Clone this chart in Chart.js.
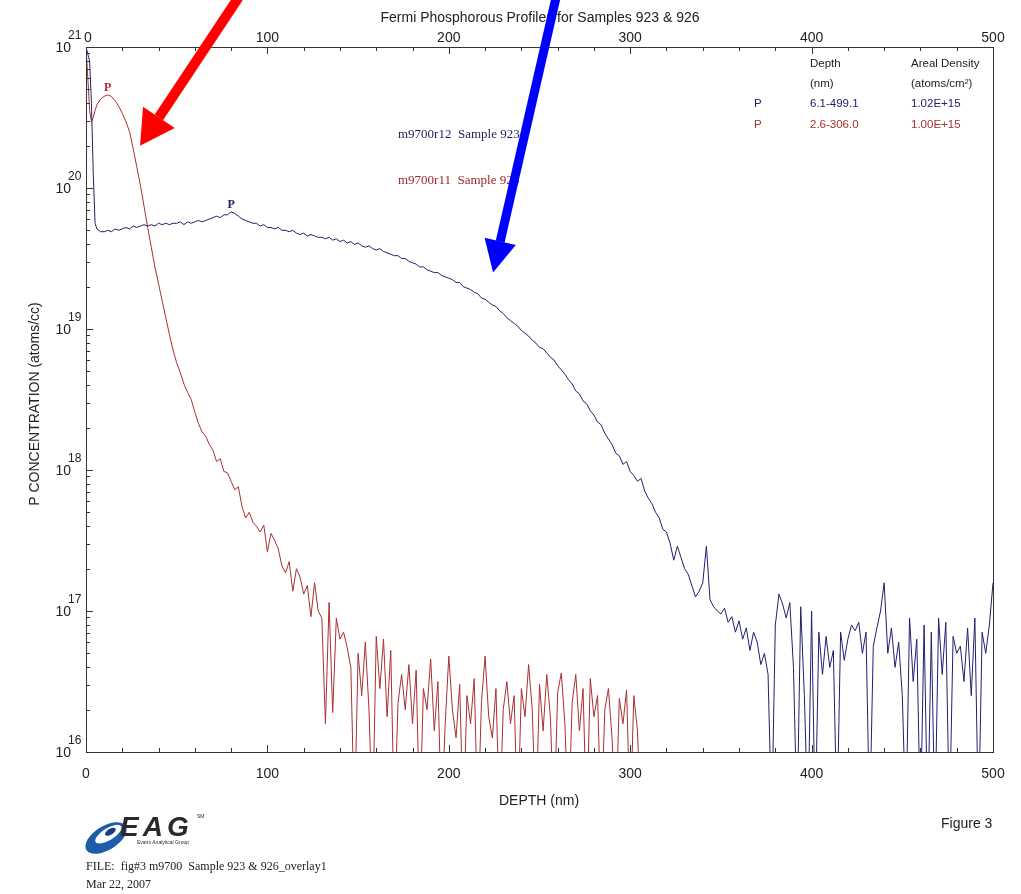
<!DOCTYPE html>
<html>
<head>
<meta charset="utf-8">
<script src="https://cdn.jsdelivr.net/npm/chart.js@4.4.0/dist/chart.umd.min.js"></script>
<style>
  html, body { margin: 0; padding: 0; background: #fff; }
  #wrap { position: relative; width: 1021px; height: 894px; }
  #sims { position: absolute; left: 0; top: 0; }
  .note { position: absolute; font-family: "Liberation Serif", serif; font-size: 12px; color: #222; white-space: pre; }
</style>
</head>
<body>
<div id="wrap">
  <canvas id="sims" width="1021" height="894"></canvas>
  <div class="note" style="left:86px;top:859px">FILE:  fig#3 m9700  Sample 923 &amp; 926_overlay1</div>
  <div class="note" style="left:86px;top:877px">Mar 22, 2007</div>
  <div style="position:absolute;left:941px;top:815px;font:14px 'Liberation Sans',sans-serif;color:#222">Figure 3</div>
</div>
<script>
// depth grid (nm) shared by both profiles
const depthNm = [0, 1, 2, 3, 4, 5, 6, 8,
  10, 12, 14, 16, 18, 20, 22, 24, 26, 28, 30, 32, 34, 36, 38, 40, 42, 44, 46, 48,
  50, 52, 54, 56, 58, 60, 62, 64, 66, 68, 70, 72, 74, 76, 78, 80, 82, 84, 86, 88,
  90, 92, 94, 96, 98, 100, 102, 104, 106, 108, 110, 112, 114, 116, 118, 120, 122, 124, 126, 128,
  130, 132, 134, 136, 138, 140, 142, 144, 146, 148, 150, 152, 154, 156, 158, 160, 162, 164, 166, 168,
  170, 172, 174, 176, 178, 180, 182, 184, 186, 188, 190, 192, 194, 196, 198, 200, 202, 204, 206, 208,
  210, 212, 214, 216, 218, 220, 222, 224, 226, 228, 230, 232, 234, 236, 238, 240, 242, 244, 246, 248,
  250, 252, 254, 256, 258, 260, 262, 264, 266, 268, 270, 272, 274, 276, 278, 280, 282, 284, 286, 288,
  290, 292, 294, 296, 298, 300, 302, 304, 306, 308, 310, 312, 314, 316, 318, 320, 322, 324, 326, 328,
  330, 332, 334, 336, 338, 340, 342, 344, 346, 348, 350, 352, 354, 356, 358, 360, 362, 364, 366, 368,
  370, 372, 374, 376, 378, 380, 382, 384, 386, 388, 390, 392, 394, 396, 398, 400, 402, 404, 406, 408,
  410, 412, 414, 416, 418, 420, 422, 424, 426, 428, 430, 432, 434, 436, 438, 440, 442, 444, 446, 448,
  450, 452, 454, 456, 458, 460, 462, 464, 466, 468, 470, 472, 474, 476, 478, 480, 482, 484, 486, 488,
  490, 492, 494, 496, 498, 500];

// log10 of P concentration (atoms/cc), sample 923 (m9700r12)
const sample923Log = [21.0, 20.95, 20.9, 20.6, 20.1, 19.75, 19.71, 19.69,
  19.69, 19.70, 19.69, 19.71, 19.70, 19.71, 19.72, 19.71, 19.73, 19.72,
  19.73, 19.74, 19.73, 19.74, 19.73, 19.75, 19.74, 19.75, 19.74, 19.75,
  19.75, 19.76, 19.74, 19.76, 19.75, 19.76, 19.77, 19.76, 19.77, 19.78,
  19.79, 19.80, 19.79, 19.81, 19.81, 19.83, 19.82, 19.80, 19.78, 19.77,
  19.76, 19.75, 19.75, 19.73, 19.74, 19.72, 19.72, 19.71, 19.72, 19.70,
  19.70, 19.69, 19.70, 19.68, 19.67, 19.68, 19.66, 19.67, 19.66, 19.65,
  19.65, 19.64, 19.65, 19.63, 19.64, 19.62, 19.63, 19.61, 19.62, 19.60,
  19.61, 19.59, 19.58, 19.59, 19.57, 19.56, 19.57, 19.55, 19.54, 19.53,
  19.52, 19.52, 19.50, 19.50, 19.48, 19.47, 19.46, 19.44, 19.44, 19.42,
  19.41, 19.40, 19.40, 19.38, 19.37, 19.36, 19.35, 19.33, 19.33, 19.30,
  19.29, 19.28, 19.26, 19.25, 19.22, 19.21, 19.19, 19.17, 19.16, 19.13,
  19.11, 19.08, 19.06, 19.04, 19.02, 18.99, 18.97, 18.95, 18.92, 18.90,
  18.87, 18.86, 18.83, 18.80, 18.78, 18.74, 18.71, 18.68, 18.64, 18.61,
  18.56, 18.54, 18.49, 18.47, 18.42, 18.39, 18.34, 18.32, 18.26, 18.22,
  18.18, 18.12, 18.10, 18.04, 18.06, 17.99, 17.96, 17.92, 17.94, 17.85,
  17.80, 17.76, 17.70, 17.66, 17.58, 17.56, 17.48, 17.36, 17.46, 17.38,
  17.30, 17.26, 17.18, 17.10, 17.14, 17.20, 17.46, 17.08, 17.03, 17.00,
  16.98, 17.02, 16.92, 16.96, 16.85, 16.93, 16.80, 16.88, 16.72, 16.85,
  16.78, 16.62, 16.70, 16.55, 15.5, 16.90, 17.12, 17.05, 16.95, 17.06,
  16.60, 15.5, 17.03, 16.40, 15.5, 17.00, 15.5, 16.85, 16.55, 16.82,
  16.60, 16.72, 15.5, 16.85, 16.65, 16.80, 16.90, 16.86, 16.92, 16.70,
  16.85, 15.5, 16.75, 16.88, 17.00, 17.20, 16.70, 16.88, 16.60, 16.78,
  16.40, 15.5, 16.95, 16.50, 16.80, 15.5, 16.90, 15.5, 16.85, 15.5,
  16.95, 16.55, 16.92, 15.5, 16.82, 16.70, 16.75, 16.50, 16.88, 16.40,
  16.95, 15.5, 16.85, 16.70, 16.90, 17.20];

// log10 of P concentration (atoms/cc), sample 926 (m9700r11), ends at 306 nm
const sample926Log = [21.0, 20.78, 20.55, 20.47, 20.50, 20.55, 20.59, 20.63,
  20.65, 20.66, 20.65, 20.62, 20.58, 20.53, 20.47, 20.40, 20.28, 20.15,
  20.02, 19.87, 19.72, 19.58, 19.44, 19.32, 19.20, 19.08, 18.96, 18.85,
  18.76, 18.69, 18.61, 18.55, 18.50, 18.41, 18.33, 18.27, 18.24, 18.18,
  18.14, 18.06, 18.08, 17.99, 17.98, 17.92, 17.86, 17.88, 17.74, 17.66,
  17.70, 17.63, 17.60, 17.56, 17.61, 17.42, 17.55, 17.50, 17.44, 17.32,
  17.27, 17.35, 17.14, 17.30, 17.24, 17.12, 17.18, 16.96, 17.20, 17.00,
  16.95, 16.20, 17.06, 16.28, 16.95, 16.80, 16.85, 16.74, 16.60, 15.5,
  16.70, 16.40, 16.78, 16.30, 15.5, 16.82, 16.45, 16.80, 16.25, 16.72,
  15.5, 16.35, 16.55, 16.30, 16.62, 16.20, 16.58, 15.5, 16.45, 16.30,
  16.66, 16.15, 16.50, 15.5, 16.20, 16.68, 16.30, 16.10, 16.48, 15.5,
  16.40, 16.20, 16.52, 15.5, 16.35, 16.68, 16.25, 16.10, 16.45, 15.5,
  16.30, 16.50, 16.20, 16.40, 15.5, 16.45, 16.25, 16.62, 16.30, 15.5,
  16.48, 16.15, 16.55, 16.25, 15.5, 16.42, 16.56, 16.20, 15.5, 16.35,
  16.55, 16.15, 16.45, 15.5, 16.52, 16.25, 16.40, 15.5, 16.30, 16.45,
  16.10, 15.5, 16.38, 16.20, 16.44, 15.5, 16.40, 16.15, 15.5];

// axis ticks
const depthTicks = [0, 100, 200, 300, 400, 500];
const concExponents = [16, 17, 18, 19, 20, 21];

// results table
const elements = ['P', 'P'];
const depthRanges = ['6.1-499.1', '2.6-306.0'];
const arealDensity = ['1.02E+15', '1.00E+15'];
const runLabels = ['m9700r12  Sample 923', 'm9700r11  Sample 926'];

const navy = 'rgb(32,32,112)';
const brick = 'rgb(170,48,48)';

const toPoints = (logs) => logs.map((v, i) => ({ x: depthNm[i], y: Math.pow(10, v) }));

const arrow = (ctx, x0, y0, x1, y1, color, w, headLen, headW) => {
  const ang = Math.atan2(y1 - y0, x1 - x0);
  const bx = x1 - headLen * Math.cos(ang);
  const by = y1 - headLen * Math.sin(ang);
  ctx.strokeStyle = color;
  ctx.fillStyle = color;
  ctx.lineWidth = w;
  ctx.lineCap = 'butt';
  ctx.beginPath();
  ctx.moveTo(x0, y0);
  ctx.lineTo(bx, by);
  ctx.stroke();
  ctx.beginPath();
  ctx.moveTo(x1, y1);
  ctx.lineTo(bx + headW * Math.sin(ang), by - headW * Math.cos(ang));
  ctx.lineTo(bx - headW * Math.sin(ang), by + headW * Math.cos(ang));
  ctx.closePath();
  ctx.fill();
};

const decorations = {
  id: 'decorations',
  afterDraw(chart) {
    const { ctx, chartArea: a, scales: { x, y } } = chart;
    ctx.save();
    ctx.strokeStyle = '#333';
    ctx.lineWidth = 1;
    ctx.strokeRect(a.left + 0.5, a.top + 0.5, a.right - a.left, a.bottom - a.top);

    // depth ticks, inward on top and bottom
    ctx.beginPath();
    for (let d = x.min; d <= x.max; d += 20) {
      const px = Math.round(x.getPixelForValue(d)) + 0.5;
      const len = d % 100 === 0 ? 7 : 4;
      ctx.moveTo(px, a.bottom); ctx.lineTo(px, a.bottom - len);
      ctx.moveTo(px, a.top); ctx.lineTo(px, a.top + len);
    }
    // log ticks, inward on the left
    concExponents.forEach((e) => {
      for (let m = 1; m <= 9; m++) {
        const v = m * Math.pow(10, e);
        if (v > y.max) break;
        const py = Math.round(y.getPixelForValue(v)) + 0.5;
        ctx.moveTo(a.left, py); ctx.lineTo(a.left + (m === 1 ? 7 : 4), py);
      }
    });
    ctx.stroke();

    ctx.fillStyle = '#222';
    ctx.font = '14px "Liberation Sans", Arial, sans-serif';
    ctx.textAlign = 'center';
    ctx.textBaseline = 'middle';
    depthTicks.forEach((d) => {
      const px = x.getPixelForValue(d);
      ctx.fillText(String(d), px + (d === 0 ? 2 : 0), 38);
      ctx.fillText(String(d), px, 774);
    });
    ctx.fillText('Fermi Phosphorous Profiles for Samples 923 & 926', 540, 18);
    ctx.fillText('DEPTH (nm)', 539, 801);

    // 10^n labels
    concExponents.forEach((e) => {
      const py = y.getPixelForValue(Math.pow(10, e));
      ctx.textAlign = 'right';
      ctx.font = '14px "Liberation Sans", Arial, sans-serif';
      ctx.fillText('10', 71, py + 1);
      ctx.textAlign = 'left';
      ctx.font = '12px "Liberation Sans", Arial, sans-serif';
      ctx.fillText(String(e), 68, py - 11);
    });

    ctx.save();
    ctx.translate(35, 404);
    ctx.rotate(-Math.PI / 2);
    ctx.textAlign = 'center';
    ctx.font = '14px "Liberation Sans", Arial, sans-serif';
    ctx.fillText('P CONCENTRATION (atoms/cc)', 0, 0);
    ctx.restore();

    // results table
    ctx.textAlign = 'left';
    ctx.font = '11.5px "Liberation Sans", Arial, sans-serif';
    ctx.fillStyle = '#222';
    ctx.fillText('Depth', 810, 64);
    ctx.fillText('(nm)', 810, 84);
    ctx.fillText('Areal Density', 911, 64);
    ctx.fillText('(atoms/cm\u00b2)', 911, 84);
    [navy, brick].forEach((c, i) => {
      const ty = 104 + i * 21;
      ctx.fillStyle = c;
      ctx.fillText(elements[i], 754, ty);
      ctx.fillText(depthRanges[i], 810, ty);
      ctx.fillText(arealDensity[i], 911, ty);
    });

    // run labels
    ctx.font = '13px "Liberation Serif", "Times New Roman", serif';
    ctx.fillStyle = 'rgb(30,30,90)';
    ctx.fillText(runLabels[0], 398, 135);
    ctx.fillStyle = 'rgb(160,40,40)';
    ctx.fillText(runLabels[1], 398, 181);

    // "P" at each peak
    ctx.font = 'bold 12px "Liberation Serif", "Times New Roman", serif';
    ctx.textAlign = 'center';
    chart.data.datasets.forEach((ds) => {
      let best = null;
      ds.data.forEach((p) => { if (p.x > 7 && (!best || p.y > best.y)) best = p; });
      ctx.fillStyle = ds.borderColor;
      ctx.fillText('P', x.getPixelForValue(best.x), y.getPixelForValue(best.y) - 7);
    });

    // EAG logo
    ctx.save();
    ctx.translate(106, 838);
    ctx.rotate(-0.55);
    ctx.fillStyle = 'rgb(28,92,170)';
    ctx.beginPath(); ctx.ellipse(0, 0, 23, 12, 0, 0, Math.PI * 2); ctx.fill();
    ctx.fillStyle = '#fff';
    ctx.beginPath(); ctx.ellipse(4, -2, 15, 6, 0, 0, Math.PI * 2); ctx.fill();
    ctx.fillStyle = 'rgb(20,60,130)';
    ctx.beginPath(); ctx.ellipse(7, -3, 6, 3, 0, 0, Math.PI * 2); ctx.fill();
    ctx.restore();
    ctx.fillStyle = '#2a2a2a';
    ctx.textAlign = 'left';
    ctx.textBaseline = 'alphabetic';
    ctx.font = 'italic bold 28px "Liberation Sans", Arial, sans-serif';
    ctx.letterSpacing = '4px';
    ctx.fillText('EAG', 120, 836);
    ctx.letterSpacing = '0px';
    ctx.font = '5px "Liberation Sans", Arial, sans-serif';
    ctx.fillText('Evans Analytical Group', 137, 844);
    ctx.fillText('SM', 197, 818);

    // arrows
    const px = (d) => x.getPixelForValue(d);
    const py = (l) => y.getPixelForValue(Math.pow(10, l));
    arrow(ctx, px(84), py(21.35), px(29.8), py(20.30), 'rgb(255,0,0)', 10, 34, 19);
    arrow(ctx, px(259.1), py(21.35), px(224.4), py(19.40), 'rgb(0,0,255)', 9, 32, 16);
    ctx.restore();
  }
};

new Chart(document.getElementById('sims'), {
  type: 'line',
  data: {
    datasets: [
      { label: runLabels[0], data: toPoints(sample923Log), borderColor: navy, borderWidth: 1, pointRadius: 0, tension: 0 },
      { label: runLabels[1], data: toPoints(sample926Log), borderColor: brick, borderWidth: 1, pointRadius: 0, tension: 0 }
    ]
  },
  options: {
    responsive: false,
    animation: false,
    layout: { padding: { left: 86, right: 28, top: 47, bottom: 142 } },
    plugins: { legend: { display: false }, tooltip: { enabled: false }, title: { display: false } },
    scales: {
      x: { type: 'linear', min: 0, max: 500, display: false },
      y: { type: 'logarithmic', min: 1e16, max: 1e21, display: false }
    }
  },
  plugins: [decorations]
});
</script>
</body>
</html>
